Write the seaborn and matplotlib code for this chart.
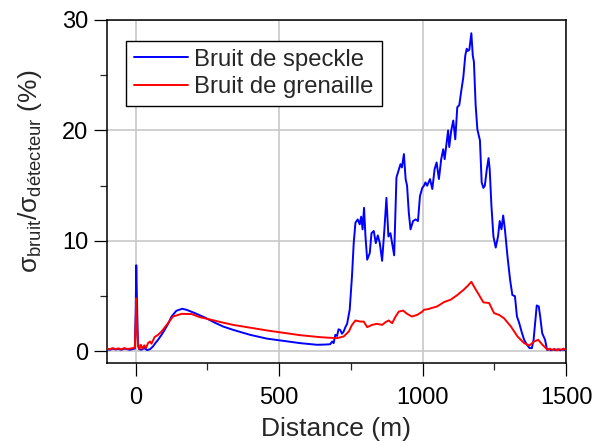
import matplotlib
matplotlib.use("Agg")
import matplotlib.pyplot as plt
from matplotlib.ticker import MultipleLocator
import pandas as pd
import seaborn as sns

# Speckle noise ratio along the fibre (distance in m, value in %)
speckle_dist = [-100, -90, -80, -70, -60, -50, -40, -30, -20, -10, -3, 0, 2, 5, 8, 12,
                20, 30, 40, 50, 60, 70, 78, 90, 101, 113, 125, 142, 162, 177, 206, 241,
                276, 305, 340, 399, 457, 515, 573, 632, 660, 678, 685, 690, 696, 702,
                707, 713, 719, 725, 731, 737, 746, 754, 760, 766, 774, 781, 786, 791,
                796, 801, 807, 816, 822, 830, 837, 844, 851, 859, 867, 874, 881, 888,
                894, 901, 905, 909, 916, 923, 928, 935, 941, 946, 952, 958, 967, 976,
                984, 991, 999, 1005, 1010, 1016, 1026, 1034, 1042, 1049, 1057, 1065,
                1072, 1077, 1084, 1089, 1093, 1100, 1107, 1114, 1121, 1128, 1135, 1142,
                1149, 1154, 1158, 1163, 1170, 1175, 1179, 1185, 1191, 1200, 1206, 1212,
                1217, 1224, 1230, 1234, 1240, 1247, 1255, 1263, 1269, 1275, 1281, 1287,
                1296, 1305, 1313, 1322, 1329, 1337, 1345, 1354, 1364, 1373, 1381, 1387,
                1393, 1398, 1405, 1410, 1417, 1427, 1434, 1441, 1448, 1456, 1464, 1472,
                1480, 1488, 1496, 1500]
speckle_val = [0.2, 0.15, 0.25, 0.18, 0.22, 0.15, 0.25, 0.2, 0.15, 0.22, 0.25, 3.5, 7.8, 4.0, 0.8, 0.2,
               0.15, 0.3, 0.12, 0.2, 0.44, 0.8, 1.05, 1.5, 1.95, 2.5, 3.16, 3.68, 3.86, 3.77, 3.47, 3.07,
               2.6, 2.25, 1.95, 1.5, 1.16, 0.95, 0.75, 0.6, 0.62, 0.65, 0.9, 0.75, 1.5, 1.4,
               2.0, 1.95, 1.6, 1.8, 2.2, 2.5, 3.77, 6.8, 9.8, 11.65, 11.95, 11.5, 12.2, 11.05,
               13.0, 10.4, 8.3, 8.9, 10.7, 10.9, 9.8, 10.5, 9.8, 8.2, 11.05, 13.9, 10.4, 10.7,
               9.8, 8.7, 12.25, 15.75, 16.35, 16.95, 16.65, 17.86, 15.6, 15.0, 12.56, 11.05, 11.8, 11.95,
               11.8, 14.07, 14.8, 15.0, 15.3, 15.0, 15.6, 14.7, 16.5, 17.1, 15.6, 17.4,
               18.3, 17.4, 18.9, 20.0, 18.5, 20.0, 20.9, 19.2, 22.1, 22.3, 23.6, 24.8,
               26.8, 27.4, 27.2, 27.3, 28.8, 26.8, 26.2, 22.3, 20.1, 19.1, 15.3, 14.8,
               15.0, 16.5, 17.5, 16.5, 13.2, 10.4, 9.4, 10.4, 11.8, 11.05, 12.3, 11.05,
               8.6, 6.5, 5.1, 5.0, 3.16, 2.56, 1.8, 1.05, 0.6, 0.3, 0.3, 1.05,
               2.7, 4.16, 4.07, 3.16, 1.65, 1.05, 0.14, 0.2, 0.1, 0.18, 0.12, 0.2,
               0.1, 0.18, 0.12, 0.15]

# Shot noise ratio along the fibre
shot_dist = [-100, -90, -80, -70, -60, -50, -40, -30, -20, -10, -3, 0, 2, 5, 8, 12,
             18, 24, 30, 36, 43, 50, 55, 66, 78, 90, 113, 130, 160, 195, 224, 241,
             305, 340, 457, 573, 643, 667, 702, 725, 743, 754, 766, 783, 795, 807,
             824, 841, 859, 871, 882, 894, 906, 917, 932, 946, 963, 981, 999, 1005,
             1022, 1028, 1051, 1075, 1098, 1121, 1144, 1158, 1170, 1182, 1197, 1212,
             1232, 1249, 1267, 1284, 1308, 1331, 1354, 1372, 1389, 1403, 1418, 1436,
             1444, 1452, 1460, 1468, 1476, 1484, 1492, 1500]
shot_val = [0.25, 0.2, 0.3, 0.2, 0.28, 0.18, 0.3, 0.22, 0.25, 0.3, 0.35, 2.5, 4.8, 2.0, 0.5, 0.2,
            0.6, 0.25, 0.55, 0.3, 0.75, 0.9, 0.7, 1.3, 1.5, 1.8, 2.56, 3.16, 3.4, 3.38, 3.1, 3.0,
            2.6, 2.4, 1.9, 1.47, 1.29, 1.25, 1.2, 1.35, 1.8, 2.4, 2.8, 2.7, 2.7, 2.2,
            2.4, 2.5, 2.4, 2.65, 2.8, 2.56, 3.16, 3.6, 3.7, 3.4, 3.16, 3.3, 3.6, 3.77,
            3.84, 3.9, 4.07, 4.47, 4.68, 5.1, 5.6, 5.95, 6.3, 5.75, 5.1, 4.44,
            4.38, 3.47, 3.3, 3.0, 2.25, 1.35, 0.75, 0.53, 0.9, 1.05, 0.6, 0.14,
            0.25, 0.12, 0.22, 0.1, 0.2, 0.15, 0.25, 0.12]

series_labels = ["Bruit de speckle", "Bruit de grenaille"]
x_ticks = [0, 500, 1000, 1500]
y_ticks = [0, 10, 20, 30]

sns.set_theme(style="ticks")
plt.rcParams["font.family"] = ["Liberation Sans", "DejaVu Sans"]
plt.rcParams["mathtext.fontset"] = "custom"
plt.rcParams["mathtext.rm"] = "Liberation Sans"
plt.rcParams["mathtext.it"] = "Liberation Sans:italic"

speckle = pd.DataFrame({"d": speckle_dist, "v": speckle_val})
shot = pd.DataFrame({"d": shot_dist, "v": shot_val})

fig = plt.figure(figsize=(5.98, 4.44), dpi=100)
ax = fig.add_axes([0.1789, 0.1824, 0.9465 - 0.1789, 0.955 - 0.1824])

sns.lineplot(data=speckle, x="d", y="v", ax=ax, color="#0000ff", lw=1.4,
             estimator=None, label=series_labels[0], zorder=3)
sns.lineplot(data=shot, x="d", y="v", ax=ax, color="#ff0000", lw=1.4,
             estimator=None, label=series_labels[1], zorder=4)

ax.set_xlim(-100, 1500)
ax.set_ylim(-1.05, 30)
ax.set_xticks(x_ticks)
ax.set_yticks(y_ticks)
ax.xaxis.set_minor_locator(MultipleLocator(250))
ax.yaxis.set_minor_locator(MultipleLocator(5))
ax.grid(True, which="major", color="#c8c8c8", lw=1.2)
ax.set_axisbelow(True)

for side in ["left", "right", "top", "bottom"]:
    ax.spines[side].set_visible(True)
    ax.spines[side].set_color("black")
    ax.spines[side].set_linewidth(1.1)

ax.tick_params(which="major", direction="out", length=9.5, width=0.9,
               labelsize=17, colors="black")
ax.tick_params(axis="x", which="major", pad=7.5)
ax.tick_params(axis="y", which="major", pad=4)
ax.tick_params(which="minor", direction="out", length=5, width=0.9)
ax.tick_params(right=False, top=False, which="both")

ax.set_xlabel("Distance (m)", fontsize=19, labelpad=6)
ax.set_ylabel(r"$\mathregular{σ_{bruit}/σ_{détecteur}}$ (%)", fontsize=19)
ax.yaxis.set_label_coords(-0.137, 0.559)

leg = ax.legend(loc="upper left", bbox_to_anchor=(0.0414, 0.9388), borderaxespad=0,
                fontsize=17.2, frameon=True, fancybox=False, framealpha=1,
                edgecolor="black", handlelength=2.25, handletextpad=0.28,
                labelspacing=0.22, borderpad=0.33)
leg.get_frame().set_linewidth(1.0)
for line in leg.get_lines():
    line.set_linewidth(1.4)

fig.savefig("out.png", dpi=100)
